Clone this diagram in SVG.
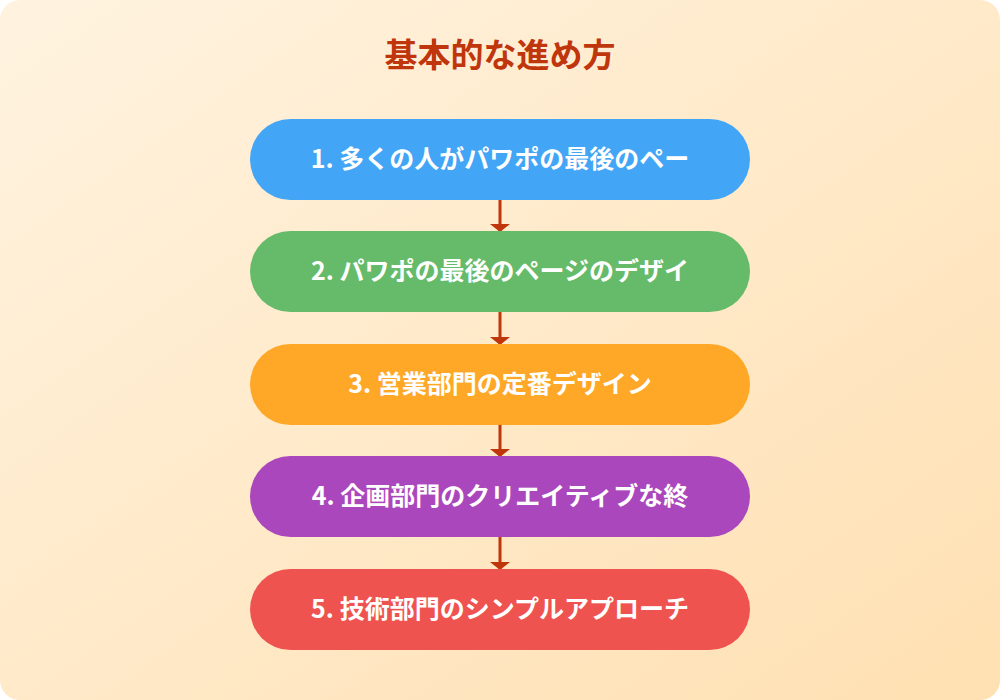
<svg xmlns="http://www.w3.org/2000/svg" width="1000" height="700" viewBox="0 0 1000 700">
<defs>
<linearGradient id="bg" x1="0" y1="0" x2="1" y2="1">
<stop offset="0" stop-color="#FFF3E0"/>
<stop offset="1" stop-color="#FFE0B2"/>
</linearGradient>
<marker id="ah" viewBox="0 0 8 20" refX="8" refY="10" markerWidth="8" markerHeight="20" markerUnits="userSpaceOnUse" orient="auto">
<path d="M0,0 L8,10 L0,20 Z" fill="#BF360C"/>
</marker>
<style>
.t{font-family:"Noto Sans CJK JP","Noto Sans",sans-serif;font-weight:700;}
.lbl{fill:#fff;font-size:25px;text-anchor:middle;}
.ttl{fill:#BF360C;font-size:33px;text-anchor:middle;}
.c{stroke:#BF360C;stroke-width:3;fill:none;}
</style>
</defs>
<rect x="0" y="0" width="1000" height="700" rx="20" fill="url(#bg)"/>
<text class="t ttl" x="500" y="67">基本的な進め方</text>
<g id="connectors">
<line class="c" x1="500" y1="200" x2="500" y2="232" marker-end="url(#ah)"/>
<line class="c" x1="500" y1="312" x2="500" y2="345" marker-end="url(#ah)"/>
<line class="c" x1="500" y1="425" x2="500" y2="457" marker-end="url(#ah)"/>
<line class="c" x1="500" y1="537" x2="500" y2="570" marker-end="url(#ah)"/>
</g>
<g id="step1">
<rect x="250" y="119" width="500" height="81" rx="40.5" fill="#42A5F5"/>
<text class="t lbl" x="500" y="168">1. 多くの人がパワポの最後のペー</text>
</g>
<g id="step2">
<rect x="250" y="231" width="500" height="81" rx="40.5" fill="#66BB6A"/>
<text class="t lbl" x="500" y="280">2. パワポの最後のページのデザイ</text>
</g>
<g id="step3">
<rect x="250" y="344" width="500" height="81" rx="40.5" fill="#FFA726"/>
<text class="t lbl" x="500" y="393">3. 営業部門の定番デザイン</text>
</g>
<g id="step4">
<rect x="250" y="456" width="500" height="81" rx="40.5" fill="#AB47BC"/>
<text class="t lbl" x="500" y="505">4. 企画部門のクリエイティブな終</text>
</g>
<g id="step5">
<rect x="250" y="569" width="500" height="81" rx="40.5" fill="#EF5350"/>
<text class="t lbl" x="500" y="618">5. 技術部門のシンプルアプローチ</text>
</g>
</svg>
